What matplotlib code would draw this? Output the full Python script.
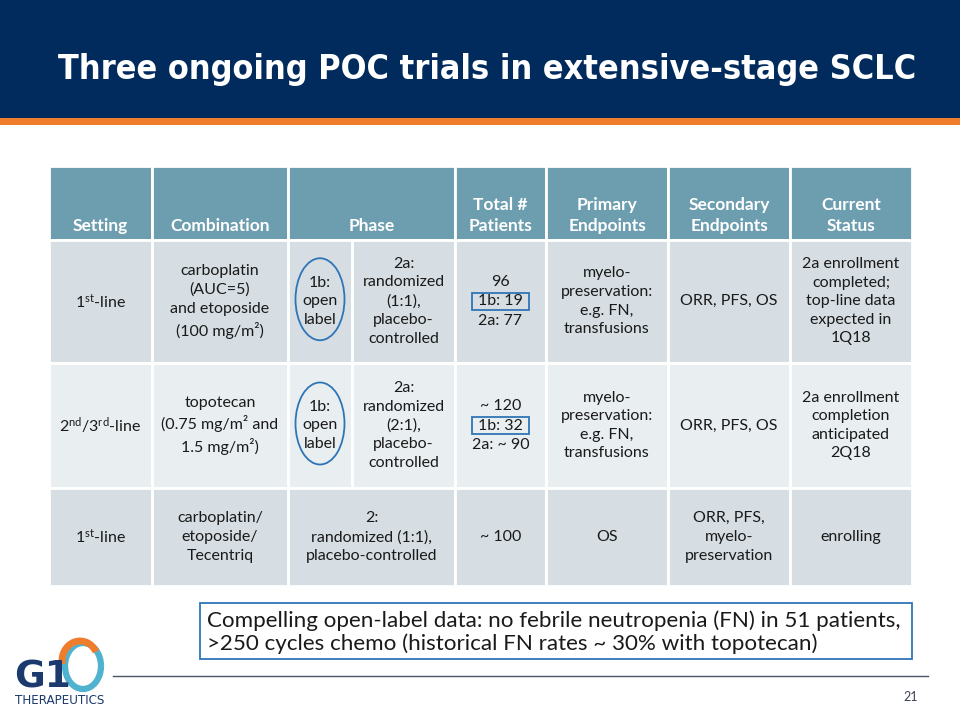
import matplotlib
matplotlib.use("Agg")
import matplotlib.pyplot as plt
from matplotlib.patches import Rectangle, Ellipse, Arc

plt.rcParams['font.family'] = ['Lato', 'DejaVu Sans']
plt.rcParams['mathtext.fontset'] = 'custom'
plt.rcParams['mathtext.rm'] = 'Lato'
plt.rcParams['mathtext.it'] = 'Lato:italic'
plt.rcParams['mathtext.bf'] = 'Lato:bold'

# ---- table content ----
title = "Three ongoing POC trials in extensive-stage SCLC"
headers = ["Setting", "Combination", "Phase", "Total #\nPatients",
           "Primary\nEndpoints", "Secondary\nEndpoints", "Current\nStatus"]
settings = [r"1$^{\mathrm{st}}$-line", r"2$^{\mathrm{nd}}$/3$^{\mathrm{rd}}$-line",
            r"1$^{\mathrm{st}}$-line"]
combinations = ["carboplatin\n(AUC=5)\nand etoposide\n(100 mg/m²)",
                "topotecan\n(0.75 mg/m² and\n1.5 mg/m²)",
                "carboplatin/\netoposide/\nTecentriq"]
phase_1b = ["1b:\nopen\nlabel", "1b:\nopen\nlabel", None]
phase_2 = ["2a:\nrandomized\n(1:1),\nplacebo-\ncontrolled",
           "2a:\nrandomized\n(2:1),\nplacebo-\ncontrolled",
           "2:\nrandomized (1:1),\nplacebo-controlled"]
patients_total = ["96", "~ 120", "~ 100"]
patients_1b = ["1b: 19", "1b: 32", None]
patients_2a = ["2a: 77", "2a: ~ 90", None]
primary = ["myelo-\npreservation:\ne.g. FN,\ntransfusions",
           "myelo-\npreservation:\ne.g. FN,\ntransfusions", "OS"]
secondary = ["ORR, PFS, OS", "ORR, PFS, OS", "ORR, PFS,\nmyelo-\npreservation"]
status = ["2a enrollment\ncompleted;\ntop-line data\nexpected in\n1Q18",
          "2a enrollment\ncompletion\nanticipated\n2Q18", "enrolling"]
note = ("Compelling open-label data: no febrile neutropenia (FN) in 51 patients,\n"
        ">250 cycles chemo (historical FN rates ~ 30% with topotecan)")
page_number = "21"

# ---- layout (pixel coordinates) ----
col_edges = [49, 152, 288, 455, 546, 668, 790, 912]
phase_split = 352
row_edges = [166, 239.5, 363, 488, 586]
header_color = '#6d9eaf'
row_colors = ['#d6dee3', '#e9eef1', '#d6dee3']
navy = '#002b5c'
orange = '#ef7d2c'
blue_line = '#2e75b6'
text_color = '#1a1a1a'

fig = plt.figure(figsize=(9.6, 7.2), dpi=100)
ax = fig.add_axes([0, 0, 1, 1])
ax.set_xlim(0, 960)
ax.set_ylim(720, 0)
ax.axis('off')

# title bar
ax.add_patch(Rectangle((0, 0), 960, 118, facecolor=navy, edgecolor='none'))
ax.add_patch(Rectangle((0, 118), 960, 7, facecolor=orange, edgecolor='none'))
t = ax.text(58, 70, title, color='white', fontsize=26, fontweight='bold',
            family='DejaVu Sans', fontstretch='condensed', ha='left', va='center')
fig.canvas.draw()
w = t.get_window_extent(fig.canvas.get_renderer()).width
t.set_fontsize(26 * 857 / w)


def cell(x0, x1, y0, y1, color):
    ax.add_patch(Rectangle((x0, y0), x1 - x0, y1 - y0, facecolor=color,
                           edgecolor='white', linewidth=2))


body = dict(fontsize=11.5, color=text_color, ha='center', va='center', linespacing=1.42)

# header
for i, h in enumerate(headers):
    x0, x1 = col_edges[i], col_edges[i + 1]
    cell(x0, x1, row_edges[0], row_edges[1], header_color)
    ax.text((x0 + x1) / 2, 234, h, fontsize=12.5, fontweight='bold', color='white',
            ha='center', va='bottom', linespacing=1.35)

# body rows
for r in range(3):
    y0, y1 = row_edges[r + 1], row_edges[r + 2]
    yc = (y0 + y1) / 2
    col = row_colors[r]
    for i in range(7):
        x0, x1 = col_edges[i], col_edges[i + 1]
        if i == 2 and phase_1b[r] is not None:
            cell(x0, phase_split, y0, y1, col)
            cell(phase_split, x1, y0, y1, col)
        else:
            cell(x0, x1, y0, y1, col)
    cx = [(col_edges[i] + col_edges[i + 1]) / 2 for i in range(7)]
    ax.text(cx[0], yc, settings[r], **body)
    ax.text(cx[1], yc, combinations[r], **body)
    if phase_1b[r] is not None:
        px = (col_edges[2] + phase_split) / 2
        ax.text(px, yc, phase_1b[r], **body)
        ax.add_patch(Ellipse((px, yc - 2), 49, 82, facecolor='none',
                             edgecolor=blue_line, linewidth=1.3))
        ax.text((phase_split + col_edges[3]) / 2, yc, phase_2[r], **body)
    else:
        ax.text(cx[2], yc, phase_2[r], **body)
    if patients_1b[r] is not None:
        ax.text(cx[3], yc - 19.5, patients_total[r], **body)
        ax.text(cx[3], yc, patients_1b[r], **body)
        ax.text(cx[3], yc + 19.5, patients_2a[r], **body)
        ax.add_patch(Rectangle((cx[3] - 28.5, yc - 8.5), 57, 17, facecolor='none',
                               edgecolor=blue_line, linewidth=1.3))
    else:
        ax.text(cx[3], yc, patients_total[r], **body)
    ax.text(cx[4], yc, primary[r], **body)
    ax.text(cx[5], yc, secondary[r], **body)
    ax.text(cx[6], yc, status[r], **body)

# call-out box
ax.add_patch(Rectangle((200, 603), 712, 56, facecolor='white',
                       edgecolor=blue_line, linewidth=1.3))
ax.text(207, 632, note, fontsize=16.1, color=text_color, ha='left', va='center',
        linespacing=1.12)

# footer
ax.plot([113, 928], [676, 676], color='#4a5266', linewidth=1)
ax.text(918, 697, page_number, fontsize=9, color='#3a4256', ha='right', va='center')

# logo
ax.add_patch(Arc((83, 666), 36, 46, theta1=0, theta2=360, color='#4fb3cf', linewidth=4.5))
ax.add_patch(Arc((80, 661), 36, 40, theta1=170, theta2=330, color=orange, linewidth=5))
ax.text(14, 678, "G1", fontsize=27, fontweight='bold', color='#1d3a6e',
        family='DejaVu Sans', ha='left', va='center')
ax.text(60, 701, "THERAPEUTICS", fontsize=9.5, color='#1d3a6e', ha='center',
        va='center', family='DejaVu Sans', fontstretch='condensed')

fig.savefig("out.png", dpi=100)
